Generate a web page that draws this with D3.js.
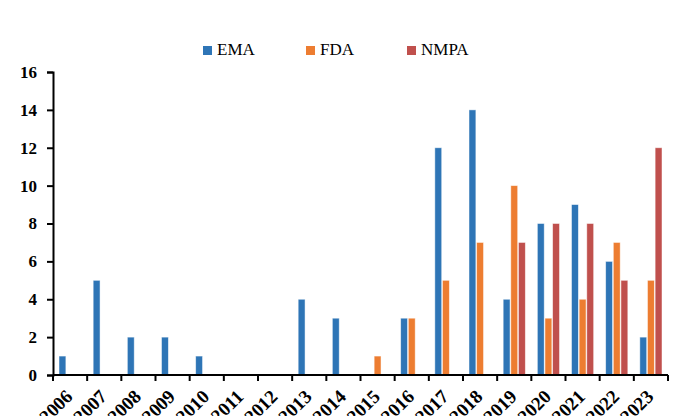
<!DOCTYPE html>
<html>
<head>
<meta charset="utf-8">
<script src="https://cdn.jsdelivr.net/npm/d3@7"></script>
<style>
	body { margin: 0; background: white; }
</style>
</head>
<body>
<div id="container"></div>
<script>
const years = ['2006','2007','2008','2009','2010','2011','2012','2013','2014','2015','2016','2017','2018','2019','2020','2021','2022','2023'];
const series = ['EMA', 'FDA', 'NMPA'];
const ema  = [1, 5, 2, 2, 1, 0, 0, 4, 3, 0, 3, 12, 14, 4, 8, 9, 6, 2];
const fda  = [0, 0, 0, 0, 0, 0, 0, 0, 0, 1, 3, 5, 7, 10, 3, 4, 7, 5];
const nmpa = [0, 0, 0, 0, 0, 0, 0, 0, 0, 0, 0, 0, 0, 7, 8, 8, 5, 12];
const yTicks = [0, 2, 4, 6, 8, 10, 12, 14, 16];
const colors = ['#2e75b6', '#ed7d31', '#c0504d'];

const W = 677, H = 416;
const PLOT_L = 53, PLOT_R = 668, PLOT_T = 72, PLOT_B = 375;
const FONT = '"Liberation Serif", "Times New Roman", serif';

const svg = d3.select('#container').append('svg')
	.attr('width', W)
	.attr('height', H)
	.style('display', 'block');

const x0 = d3.scaleBand().domain(years).range([PLOT_L, PLOT_R]);
const x1 = d3.scaleBand().domain(series).range([6, x0.bandwidth() - 6]).paddingInner(0.1);
const y = d3.scaleLinear().domain([0, 16]).range([PLOT_B, PLOT_T]);

const rows = years.map((yr, i) => ({year: yr, values: [ema[i], fda[i], nmpa[i]]}));

// bars
const groups = svg.append('g').selectAll('g').data(rows).join('g')
	.attr('transform', d => `translate(${x0(d.year)},0)`);
groups.selectAll('rect')
	.data(d => d.values.map((v, k) => ({key: series[k], v: v, k: k})).filter(d => d.v > 0))
	.join('rect')
	.attr('x', d => x1(d.key))
	.attr('y', d => y(d.v))
	.attr('width', x1.bandwidth())
	.attr('height', d => y(0) - y(d.v))
	.attr('fill', d => colors[d.k])
	.attr('stroke', 'white')
	.attr('stroke-opacity', 0.6)
	.attr('stroke-width', 0.8);

// y axis
const yAxis = svg.append('g')
	.attr('transform', `translate(${PLOT_L},0)`)
	.call(d3.axisLeft(y).tickValues(yTicks).tickSize(6).tickPadding(10));
yAxis.select('.domain').attr('stroke-width', 2);
yAxis.selectAll('.tick line').attr('stroke-width', 2);
yAxis.selectAll('text')
	.style('font-family', FONT)
	.style('font-weight', 'bold')
	.style('font-size', '17px')
	.attr('fill', 'black');

// x axis
const xAxis = svg.append('g')
	.attr('transform', `translate(0,${PLOT_B})`);
xAxis.append('line')
	.attr('x1', PLOT_L).attr('x2', PLOT_R)
	.attr('stroke', 'black').attr('stroke-width', 2);
xAxis.selectAll('line.tk').data(years.concat(['end'])).join('line')
	.attr('class', 'tk')
	.attr('x1', (d, i) => i < years.length ? x0(d) : PLOT_R)
	.attr('x2', (d, i) => i < years.length ? x0(d) : PLOT_R)
	.attr('y1', 0).attr('y2', 6)
	.attr('stroke', 'black').attr('stroke-width', 2);
// labels run off the bottom edge, as in the original export
xAxis.selectAll('text').data(years).join('text')
	.attr('transform', d => `translate(${x0(d) + x0.bandwidth() / 2 - 1},${18}) rotate(-45)`)
	.attr('text-anchor', 'end')
	.attr('dy', '0.35em')
	.style('font-family', FONT)
	.style('font-weight', 'bold')
	.style('font-size', '19px')
	.text(d => d);

// legend
const legendX = [203, 306, 407];
const legend = svg.append('g').selectAll('g').data(series).join('g')
	.attr('transform', (d, i) => `translate(${legendX[i]},46)`);
legend.append('rect')
	.attr('width', 9).attr('height', 9)
	.attr('fill', (d, i) => colors[i]);
legend.append('text')
	.attr('x', 14).attr('y', 9)
	.style('font-family', FONT)
	.style('font-size', '17px')
	.text(d => d);
</script>
</body>
</html>
